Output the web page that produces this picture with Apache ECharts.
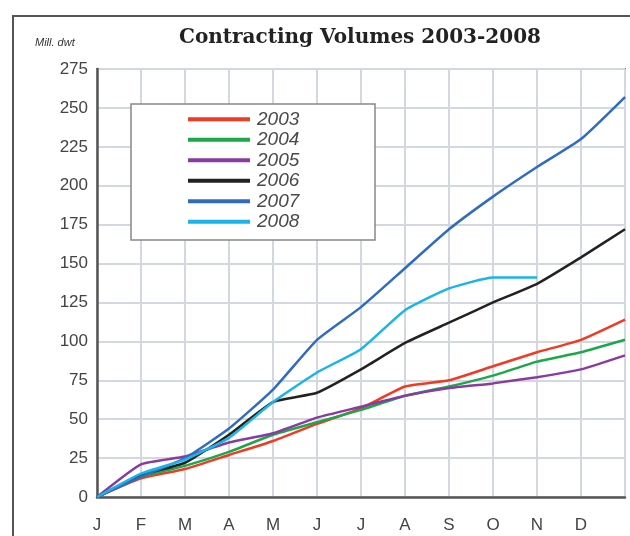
<!DOCTYPE html>
<html>
<head>
<meta charset="utf-8">
<script src="https://cdn.jsdelivr.net/npm/echarts@6/dist/echarts.min.js"></script>
<style>
html,body{margin:0;padding:0;background:#fff;}
#chart{width:630px;height:536px;}
</style>
</head>
<body>
<div id="chart"></div>
<script>
// month labels, last slot is year end
var months = ["J","F","M","A","M","J","J","A","S","O","N","D",""];
var years = ["2003","2004","2005","2006","2007","2008"];
var colors = ["#f03a24","#1aa84a","#8a3aa0","#222222","#2f6cc0","#18b4ea"];

var v2003 = [0,12,18,27,36,47,57,71,75,84,93,101,114];
var v2004 = [0,13,20,29,40,48,56,65,71,78,87,93,101];
var v2005 = [0,21,26,35,41,51,58,65,70,73,77,82,91];
var v2006 = [0,14,22,40,61,67,82,99,112,125,137,154,172];
var v2007 = [0,13,25,44,69,101,122,147,172,193,212,230,257];
var v2008 = [0,15,24,38,61,80,95,120,134,141,141,null,null];

var values = [v2003,v2004,v2005,v2006,v2007,v2008];

var chart = echarts.init(document.getElementById("chart"));

var series = [];
for (var i = 0; i < years.length; i++) {
    series.push({
        name: years[i],
        type: "line",
        data: values[i],
        symbol: "none",
        smooth: 0.15,
        lineStyle: { color: colors[i], width: 2.5 },
        itemStyle: { color: colors[i] }
    });
}

var option = {
    backgroundColor: "#fff",
    animation: false,
    color: colors,
    title: {
        text: "Contracting Volumes 2003-2008",
        left: 355,
        textAlign: "center",
        top: 23,
        textStyle: {
            fontFamily: "DejaVu Serif",
            fontWeight: "bold",
            fontSize: 20,
            color: "#222"
        }
    },
    graphic: [
        {
            type: "rect",
            shape: { x: 13, y: 16, width: 640, height: 540 },
            style: { fill: "none", stroke: "#555", lineWidth: 2 },
            silent: true
        },
        {
            type: "text",
            left: 35,
            top: 37,
            style: {
                text: "Mill. dwt",
                fontFamily: "Liberation Sans",
                fontStyle: "italic",
                fontSize: 11,
                fill: "#333"
            }
        },
        {
            type: "rect",
            shape: { x: 131, y: 104, width: 244, height: 136 },
            style: { fill: "#fff", stroke: "#888", lineWidth: 1.5 },
            z: 10,
            silent: true
        }
    ],
    legend: {
        orient: "vertical",
        left: 188,
        top: 109,
        padding: 0,
        itemGap: 0,
        itemWidth: 62,
        itemHeight: 4,
        icon: "rect",
        z: 20,
        data: years,
        textStyle: {
            fontFamily: "Liberation Sans",
            fontStyle: "italic",
            fontSize: 19,
            lineHeight: 20.5,
            color: "#4a4a4a",
            padding: [0, 0, 0, 2]
        }
    },
    grid: {
        left: 97,
        right: 5,
        top: 69,
        bottom: 39,
        show: true,
        borderColor: "#777",
        borderWidth: 2,
        containLabel: false
    },
    xAxis: {
        type: "category",
        data: months,
        boundaryGap: false,
        axisLine: { lineStyle: { color: "#555", width: 2.5 } },
        axisTick: { show: false },
        axisLabel: {
            margin: 20,
            fontFamily: "Liberation Sans",
            fontSize: 17,
            color: "#444",
            interval: 0
        },
        splitLine: { show: true, lineStyle: { color: "#d3d7de", width: 2 } }
    },
    yAxis: {
        type: "value",
        min: 0,
        max: 275,
        interval: 25,
        axisLine: { show: true, lineStyle: { color: "#555", width: 2.5 } },
        axisTick: { show: false },
        axisLabel: {
            margin: 9,
            fontFamily: "Liberation Sans",
            fontSize: 17,
            color: "#444"
        },
        splitLine: { show: true, lineStyle: { color: "#d3d7de", width: 2 } }
    },
    series: series
};

chart.setOption(option);
</script>
</body>
</html>
